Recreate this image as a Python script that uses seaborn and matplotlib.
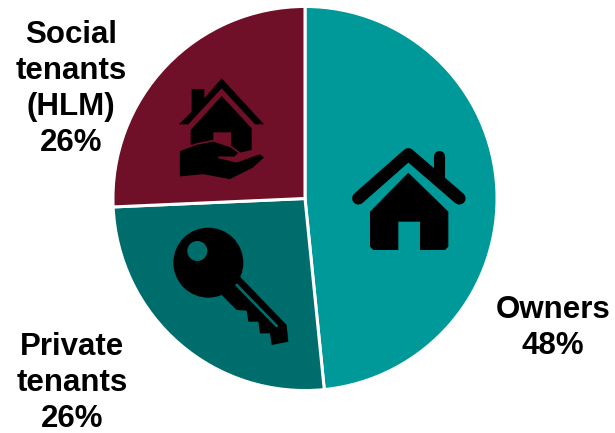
import matplotlib
matplotlib.use('Agg')
import matplotlib.pyplot as plt
from matplotlib.patches import Circle, Polygon
import seaborn as sns

sns.set_theme(style='white')
plt.rcParams['font.family'] = ['Liberation Sans', 'DejaVu Sans']

categories = ['Owners', 'Private\ntenants', 'Social\ntenants\n(HLM)']
shares = [48.4, 25.9, 25.7]
palette = sns.color_palette(['#009999', '#006D6D', '#700F28'])

fig = plt.figure(figsize=(6.15, 4.33), dpi=100)

# pie axes, pixel box around the circle
ax = fig.add_axes([(305 - 193) / 615, (433 - 198.5 - 193) / 433, 386 / 615, 386 / 433])
ax.pie(shares, colors=palette, startangle=90, counterclock=False, radius=1.005,
       wedgeprops={'edgecolor': 'white', 'linewidth': 2.2})
ax.set_xlim(-1.01, 1.01)
ax.set_ylim(-1.01, 1.01)
ax.axis('off')

# overlay in image pixels for labels and icons
over = fig.add_axes([0, 0, 1, 1])
over.set_xlim(0, 615)
over.set_ylim(433, 0)
over.axis('off')
over.patch.set_alpha(0)

label_pos = [(553, 328), (72, 383), (71, 89)]
for name, share, pos in zip(categories, shares, label_pos):
    over.text(pos[0], pos[1], f'{name}\n{share:.0f}%', ha='center', va='center',
              fontsize=22.5, fontweight='bold', color='black', linespacing=1.27)


def crop_pts(points, x0, y0):
    return [(x0 + a / 3, y0 + b / 3) for a, b in points]


# house icon
hx, hy = 345, 135
roof = crop_pts([(40, 190), (190, 58), (343, 190)], hx, hy)
over.plot(*zip(*roof), color='black', lw=9, solid_capstyle='round', solid_joinstyle='round')
chimney = crop_pts([(283, 62), (283, 125)], hx, hy)
over.plot(*zip(*chimney), color='black', lw=8, solid_capstyle='round')
body = crop_pts([(75, 230), (190, 113), (310, 230), (310, 335), (300, 345), (225, 345), (225, 260),
                 (160, 260), (160, 345), (85, 345), (75, 335)], hx, hy)
over.add_patch(Polygon(body, closed=True, fc='black', ec='none'))

# key icon
kx, ky = 165, 220
c = crop_pts([(130, 128)], kx, ky)[0]
over.add_patch(Circle(c, 105 / 3, fc='black', ec='none'))
shaft = crop_pts([(225, 170), (365, 315), (370, 365), (320, 375), (315, 340), (285, 340), (280, 305),
                  (250, 305), (245, 272), (215, 270), (170, 225)], kx, ky)
over.add_patch(Polygon(shaft, closed=True, fc='black', ec='none'))
hole = crop_pts([(97, 93)], kx, ky)[0]
over.add_patch(Circle(hole, 30 / 3, fc=palette[1], ec='none'))
slot = crop_pts([(215, 195), (335, 318)], kx, ky)
over.plot(*zip(*slot), color=palette[1], lw=1.9)

# house in hand icon
sx, sy = 160, 70
outline = crop_pts([(57, 163), (95, 125), (95, 57), (133, 57), (133, 85), (185, 25), (312, 163), (285, 163),
                    (185, 55), (85, 163)], sx, sy)
over.add_patch(Polygon(outline, closed=True, fc='black', ec='none'))
house = crop_pts([(92, 180), (185, 78), (275, 175), (275, 240), (240, 248), (200, 240), (92, 225)], sx, sy)
over.add_patch(Polygon(house, closed=True, fc='black', ec='none'))
door = crop_pts([(160, 187), (213, 187), (213, 232), (160, 215)], sx, sy)
over.add_patch(Polygon(door, closed=True, fc=palette[2], ec='none'))
hand = crop_pts([(57, 242), (110, 222), (160, 212), (213, 230), (238, 248), (225, 262), (175, 262), (230, 275),
                 (300, 250), (316, 262), (280, 295), (210, 330), (130, 315), (57, 322)], sx, sy)
over.add_patch(Polygon(hand, closed=True, fc='black', ec=palette[2], lw=1.2))

fig.savefig('out.png', dpi=100)
